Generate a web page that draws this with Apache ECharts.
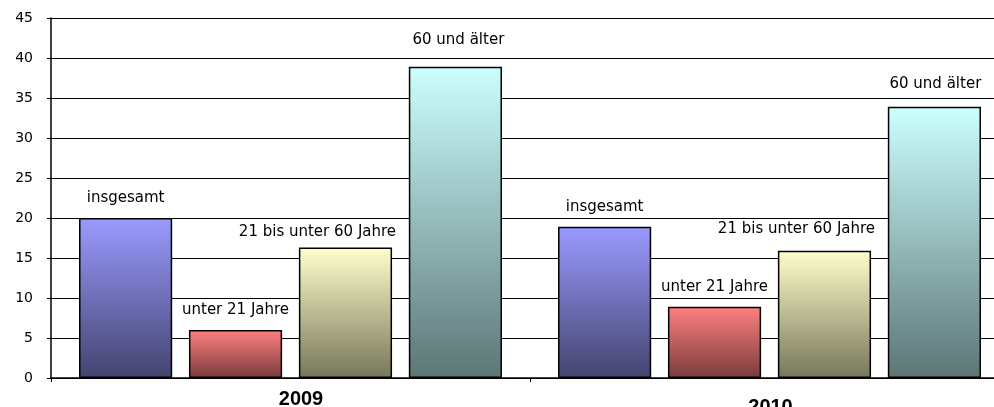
<!DOCTYPE html>
<html>
<head>
<meta charset="utf-8">
<script src="https://cdn.jsdelivr.net/npm/echarts@6/dist/echarts.min.js"></script>
<style>html,body{margin:0;padding:0;background:#fff}#c{width:994px;height:407px}</style>
</head>
<body>
<div id="c"></div>
<script>
const categories = ['2009', '2010'];
const seriesNames = ['insgesamt', 'unter 21 Jahre', '21 bis unter 60 Jahre', '60 und älter'];
const insgesamt = [20, 18.9];
const unter21 = [6, 8.9];
const von21bis60 = [16.3, 15.9];
const ab60 = [38.9, 33.9];
const yTicks = [0, 5, 10, 15, 20, 25, 30, 35, 40, 45];

const values = [insgesamt, unter21, von21bis60, ab60];
const gradients = [
  ['#9a9aff', '#44446f'],
  ['#ff8080', '#7a3c3c'],
  ['#ffffcc', '#76765a'],
  ['#ccffff', '#5d7575']
];
// label offsets per series per category [dx, dy]
const labelOffsets = [
  [[0, 0], [0, 0]],
  [[0, 0], [0, 0]],
  [[-28, 4], [-28, -2]],
  [[3, -7], [1, -3]]
];

const chart = echarts.init(document.getElementById('c'), null, {renderer: 'canvas'});
const series = seriesNames.map((name, si) => ({
  name: name,
  type: 'bar',
  barGap: '18%',
  barCategoryGap: '11.7%',
  data: values[si].map((v, ci) => ({
    value: v,
    label: {offset: labelOffsets[si][ci]}
  })),
  itemStyle: {
    color: new echarts.graphic.LinearGradient(0, 0, 0, 1, [
      {offset: 0, color: gradients[si][0]},
      {offset: 1, color: gradients[si][1]}
    ]),
    borderColor: '#000',
    borderWidth: 1.5
  },
  label: {
    show: true,
    position: 'top',
    distance: 12,
    formatter: name,
    color: '#000',
    fontFamily: 'DejaVu Sans',
    fontSize: 15
  }
}));

chart.setOption({
  animation: false,
  backgroundColor: '#fff',
  grid: {left: 51, top: 18, bottom: 29, right: -15, containLabel: false, outerBoundsMode: 'none'},
  xAxis: {
    type: 'category',
    data: categories,
    axisLine: {lineStyle: {color: '#000', width: 1.5}},
    axisTick: {show: true, length: 4, lineStyle: {color: '#000'}},
    axisLabel: {
      margin: 11,
      formatter: (v, i) => i === 0 ? '{a|' + v + '}' : '{b|' + v + '}',
      rich: {
        a: {fontFamily: 'Liberation Sans', fontWeight: 'bold', fontSize: 20, color: '#000', padding: [0, 0, 0, 21]},
        b: {fontFamily: 'Liberation Sans', fontWeight: 'bold', fontSize: 20, color: '#000', padding: [8, 0, 0, 2]}
      }
    }
  },
  yAxis: {
    type: 'value',
    min: yTicks[0],
    max: yTicks[yTicks.length - 1],
    interval: 5,
    axisLine: {show: true, lineStyle: {color: '#000', width: 1.5}},
    axisTick: {show: true, length: 4, lineStyle: {color: '#000'}},
    axisLabel: {margin: 18, color: '#000', fontFamily: 'DejaVu Sans', fontSize: 14},
    splitLine: {show: true, lineStyle: {color: '#000', width: 1}}
  },
  series: series
});
</script>
</body>
</html>
